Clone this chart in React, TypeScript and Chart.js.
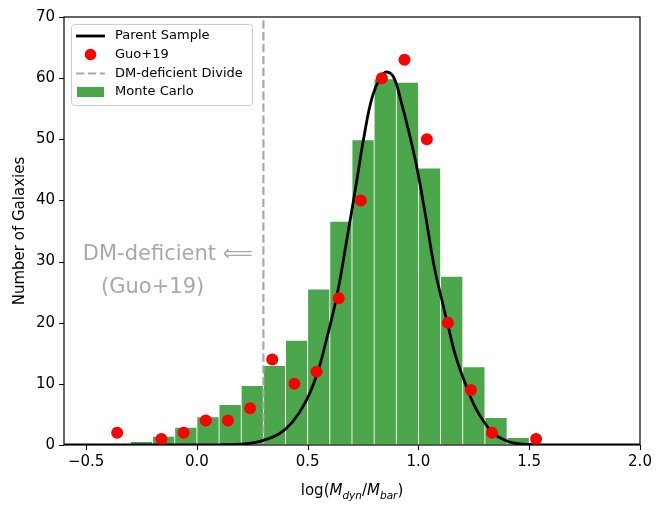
import React, { useEffect, useRef } from "react";
import { Chart, registerables } from "chart.js";
Chart.register(...registerables);

const FONT = "'DejaVu Sans', sans-serif";

// Histogram (Monte Carlo) — bin centers, bin width 0.1
const binCenters = [-0.25, -0.15, -0.05, 0.05, 0.15, 0.25, 0.35, 0.45, 0.55, 0.65, 0.75, 0.85, 0.95, 1.05, 1.15, 1.25, 1.35, 1.45];
const monteCarlo = [0.55, 1.4, 2.9, 4.6, 6.6, 9.7, 13.0, 17.1, 25.5, 36.6, 49.9, 59.9, 59.3, 45.3, 27.6, 12.8, 4.5, 1.2];

// Guo+19 points
const guoX = [-0.36, -0.16, -0.06, 0.04, 0.14, 0.24, 0.34, 0.44, 0.54, 0.64, 0.74, 0.835, 0.937, 1.038, 1.133, 1.237, 1.332, 1.531];
const guoY = [2, 1, 2, 4, 4, 6, 14, 10, 12, 24, 40, 60, 63, 50, 20, 9, 2, 1];

// Parent sample curve
const parentX = [-0.6, 0.0, 0.1, 0.2, 0.25, 0.3, 0.37, 0.43, 0.49, 0.543, 0.588, 0.634, 0.679, 0.717, 0.754, 0.792, 0.83, 0.86, 0.89, 0.92, 0.958, 0.995, 1.033, 1.071, 1.109, 1.131, 1.169, 1.214, 1.26, 1.327, 1.388, 1.433, 1.5, 1.6, 2.0];
const parentY = [0, 0, 0.03, 0.15, 0.35, 0.75, 1.8, 3.7, 7.0, 11.7, 17.7, 24.8, 34.1, 42.2, 50.4, 57.0, 60.2, 61.0, 60.0, 56.4, 51.0, 45.0, 37.3, 29.2, 23.2, 19.9, 14.4, 9.8, 5.9, 2.3, 0.8, 0.3, 0.08, 0, 0];

// DM-deficient divide
const divideX = 0.3;

// Axes
const xMin = -0.6, xMax = 2.0;
const yMin = 0, yMax = 70;
const xTicks = [-0.5, 0.0, 0.5, 1.0, 1.5, 2.0];
const yTicks = [0, 10, 20, 30, 40, 50, 60, 70];

const labels = {
  parent: "Parent Sample",
  guo: "Guo+19",
  divide: "DM-deficient Divide",
  mc: "Monte Carlo",
  yTitle: "Number of Galaxies",
  annot1: "DM-deficient \u27F8",
  annot2: "(Guo+19)",
};

const GREEN = "#4ca64c";
const RED = "#ff0000";
const GRAY = "#a9a9a9";
const TICK_LEN = 5;

const fmtX = (v: number) => (v < 0 ? "\u2212" : "") + Math.abs(v).toFixed(1);

const decorPlugin = {
  id: "decor",
  afterDraw(chart: any) {
    const { ctx, chartArea: ca, scales } = chart;
    const xs = scales.x, ys = scales.y;
    ctx.save();
    // frame
    ctx.strokeStyle = "#000";
    ctx.lineWidth = 1.2;
    ctx.strokeRect(ca.left, ca.top, ca.right - ca.left, ca.bottom - ca.top);
    // tick marks
    ctx.beginPath();
    xTicks.forEach((v) => {
      const px = Math.round(xs.getPixelForValue(v)) + 0.5;
      ctx.moveTo(px, ca.bottom);
      ctx.lineTo(px, ca.bottom + TICK_LEN);
    });
    yTicks.forEach((v) => {
      const py = Math.round(ys.getPixelForValue(v)) + 0.5;
      ctx.moveTo(ca.left, py);
      ctx.lineTo(ca.left - TICK_LEN, py);
    });
    ctx.lineWidth = 1.1;
    ctx.stroke();

    // annotation text
    ctx.fillStyle = GRAY;
    ctx.font = `21px ${FONT}`;
    ctx.textBaseline = "middle";
    ctx.textAlign = "left";
    ctx.fillText(labels.annot1, xs.getPixelForValue(-0.515), ys.getPixelForValue(31.1));
    ctx.textAlign = "center";
    ctx.fillText(labels.annot2, xs.getPixelForValue(-0.2), ys.getPixelForValue(25.8));

    // y title
    ctx.fillStyle = "#000";
    ctx.font = `15px ${FONT}`;
    ctx.save();
    ctx.translate(20, (ca.top + ca.bottom) / 2);
    ctx.rotate(-Math.PI / 2);
    ctx.textAlign = "center";
    ctx.textBaseline = "middle";
    ctx.fillText(labels.yTitle, 0, 0);
    ctx.restore();

    // x title with subscripts
    const parts = [
      { t: "log(", it: false, s: 15, dy: 0 },
      { t: "M", it: true, s: 15, dy: 0 },
      { t: "dyn", it: true, s: 10.5, dy: 3.5 },
      { t: "/", it: false, s: 15, dy: 0 },
      { t: "M", it: true, s: 15, dy: 0 },
      { t: "bar", it: true, s: 10.5, dy: 3.5 },
      { t: ")", it: false, s: 15, dy: 0 },
    ];
    let total = 0;
    const widths = parts.map((p) => {
      ctx.font = `${p.it ? "italic " : ""}${p.s}px ${FONT}`;
      const w = ctx.measureText(p.t).width;
      total += w;
      return w;
    });
    let x = (ca.left + ca.right) / 2 - total / 2;
    const base = 495;
    ctx.textAlign = "left";
    ctx.textBaseline = "alphabetic";
    parts.forEach((p, i) => {
      ctx.font = `${p.it ? "italic " : ""}${p.s}px ${FONT}`;
      ctx.fillText(p.t, x, base + p.dy);
      x += widths[i];
    });

    // legend
    const lx = ca.left + 7.5, ly = ca.top + 7.5, lw = 181, lh = 81;
    ctx.beginPath();
    if ((ctx as any).roundRect) (ctx as any).roundRect(lx, ly, lw, lh, 3);
    else ctx.rect(lx, ly, lw, lh);
    ctx.fillStyle = "rgba(255,255,255,0.8)";
    ctx.fill();
    ctx.strokeStyle = "#cccccc";
    ctx.lineWidth = 1;
    ctx.stroke();

    const hx0 = lx + 4.5, hx1 = lx + 33.5, tx = lx + 43.5;
    const rowY = [ly + 11.5, ly + 30, ly + 49, ly + 67.5];
    ctx.font = `13px ${FONT}`;
    ctx.textBaseline = "middle";
    ctx.textAlign = "left";
    // parent
    ctx.strokeStyle = "#000";
    ctx.lineWidth = 2.8;
    ctx.beginPath();
    ctx.moveTo(hx0, rowY[0]);
    ctx.lineTo(hx1, rowY[0]);
    ctx.stroke();
    ctx.fillStyle = "#000";
    ctx.fillText(labels.parent, tx, rowY[0]);
    // guo
    ctx.fillStyle = RED;
    ctx.beginPath();
    ctx.arc((hx0 + hx1) / 2, rowY[1], 5.8, 0, Math.PI * 2);
    ctx.fill();
    ctx.fillStyle = "#000";
    ctx.fillText(labels.guo, tx, rowY[1]);
    // divide
    ctx.strokeStyle = GRAY;
    ctx.lineWidth = 2.2;
    ctx.setLineDash([8.3, 3.6]);
    ctx.beginPath();
    ctx.moveTo(hx0, rowY[2]);
    ctx.lineTo(hx1, rowY[2]);
    ctx.stroke();
    ctx.setLineDash([]);
    ctx.fillStyle = "#000";
    ctx.fillText(labels.divide, tx, rowY[2]);
    // mc
    ctx.fillStyle = GREEN;
    ctx.fillRect(hx0 + 1, rowY[3] - 5, hx1 - hx0 - 2, 10);
    ctx.fillStyle = "#000";
    ctx.fillText(labels.mc, tx, rowY[3]);

    ctx.restore();
  },
};

export default function App() {
  const ref = useRef<HTMLCanvasElement | null>(null);
  useEffect(() => {
    if (!ref.current) return;
    Chart.defaults.font.family = FONT;
    const chart = new Chart(ref.current, {
      type: "bar",
      data: {
        datasets: [
          {
            type: "line",
            label: labels.guo,
            data: guoX.map((x, i) => ({ x, y: guoY[i] })),
            showLine: false,
            pointRadius: 6,
            pointBackgroundColor: RED,
            pointBorderWidth: 0,
            borderColor: RED,
            backgroundColor: RED,
            order: 0,
          } as any,
          {
            type: "line",
            label: labels.parent,
            data: parentX.map((x, i) => ({ x, y: parentY[i] })),
            borderColor: "#000",
            borderWidth: 2.8,
            pointRadius: 0,
            tension: 0.4,
            fill: false,
            order: 1,
          } as any,
          {
            type: "line",
            label: labels.divide,
            data: [
              { x: divideX, y: yMin },
              { x: divideX, y: yMax },
            ],
            borderColor: GRAY,
            borderWidth: 2.2,
            borderDash: [8.3, 3.6],
            pointRadius: 0,
            fill: false,
            order: 2,
          } as any,
          {
            type: "bar",
            label: labels.mc,
            data: binCenters.map((x, i) => ({ x, y: monteCarlo[i] })),
            backgroundColor: GREEN,
            borderColor: "#ffffff",
            borderWidth: { left: 0.75, right: 0.75, top: 0.75, bottom: 0 },
            borderSkipped: false,
            barPercentage: 1,
            categoryPercentage: 1,
            grouped: false,
            order: 3,
          } as any,
        ],
      },
      options: {
        animation: false,
        responsive: false,
        devicePixelRatio: 1,
        layout: { padding: { top: 17, right: 24, left: 0, bottom: 0 } },
        plugins: {
          legend: { display: false },
          tooltip: { enabled: false },
        },
        scales: {
          x: {
            type: "linear",
            min: xMin,
            max: xMax,
            offset: false,
            afterBuildTicks: (s: any) => {
              s.ticks = xTicks.map((v) => ({ value: v }));
            },
            afterFit: (s: any) => {
              s.height = 65;
            },
            grid: { offset: false, drawOnChartArea: false, drawTicks: true, tickLength: TICK_LEN, color: "rgba(0,0,0,0)" },
            border: { display: false },
            ticks: {
              color: "#000",
              font: { size: 15, family: FONT },
              padding: 3,
              maxRotation: 0,
              autoSkip: false,
              callback: (v: any) => fmtX(Number(v)),
            },
          },
          y: {
            type: "linear",
            min: yMin,
            max: yMax,
            afterBuildTicks: (s: any) => {
              s.ticks = yTicks.map((v) => ({ value: v }));
            },
            afterFit: (s: any) => {
              s.width = 64;
            },
            grid: { offset: false, drawOnChartArea: false, drawTicks: true, tickLength: TICK_LEN, color: "rgba(0,0,0,0)" },
            border: { display: false },
            ticks: {
              color: "#000",
              font: { size: 15, family: FONT },
              padding: 4,
              autoSkip: false,
              callback: (v: any) => String(v),
            },
          },
        },
      } as any,
      plugins: [decorPlugin],
    });
    return () => chart.destroy();
  }, []);
  return (
    <div style={{ position: "fixed", left: 0, top: 0, width: 664, height: 510, background: "#fff" }}>
      <canvas ref={ref} width={664} height={510} style={{ width: 664, height: 510 }} />
    </div>
  );
}
